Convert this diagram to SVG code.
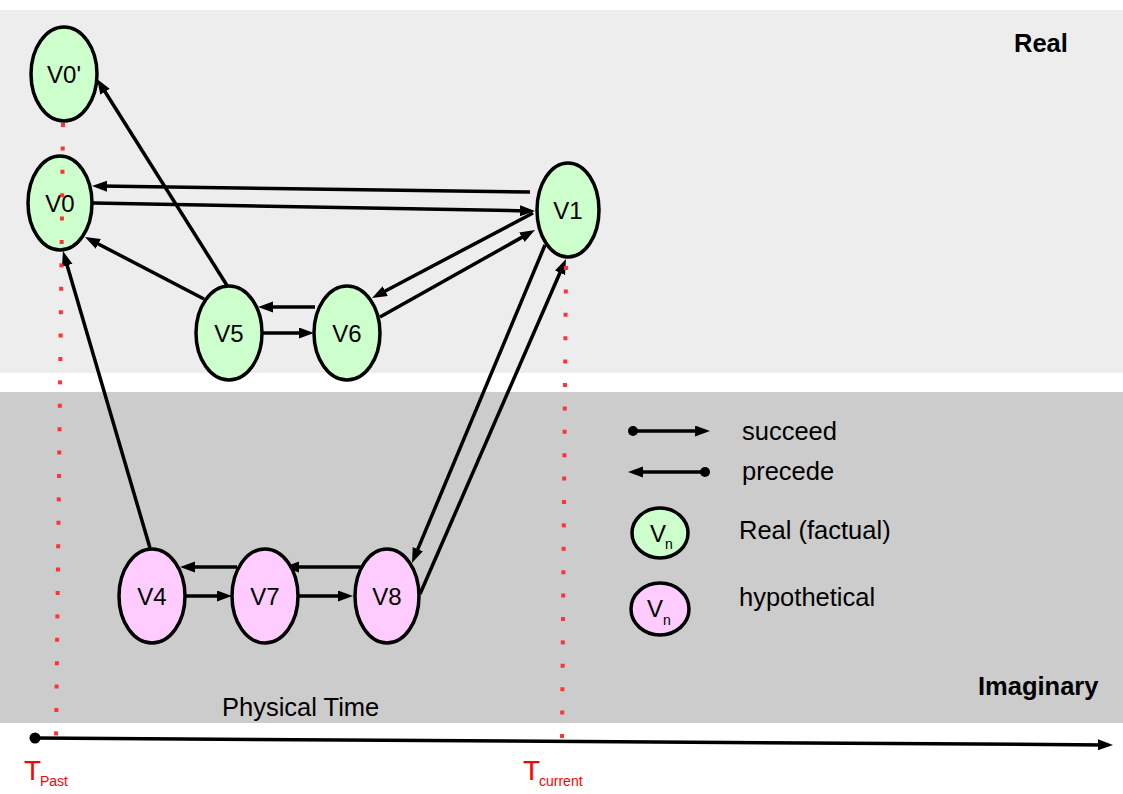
<svg xmlns="http://www.w3.org/2000/svg" width="1123" height="794" viewBox="0 0 1123 794">
<style>
.bg{stroke:none}
.n{stroke:#000;stroke-width:3.5}
.g{fill:#ccffcc}
.p{fill:#ffccff}
.t{font-family:"Liberation Sans",Arial,sans-serif;font-size:25.5px;fill:#000}
.nl{font-family:"Liberation Sans",Arial,sans-serif;font-size:24px;fill:#000;text-anchor:middle}
.b{font-family:"Liberation Sans",Arial,sans-serif;font-size:25.5px;font-weight:bold;fill:#000}
.e{stroke:#000;stroke-width:3.5;fill:none;marker-end:url(#ah)}
.dot{stroke:#ff3333;stroke-width:4;stroke-dasharray:4 19.4;fill:none}
.r{font-family:"Liberation Sans",Arial,sans-serif;fill:#ff0000}
</style>
<defs>
<marker id="ah" markerUnits="userSpaceOnUse" markerWidth="16" markerHeight="12" refX="7" refY="5.5" orient="auto">
<path d="M0,0 L15,5.5 L0,11 Z" fill="#000"/>
</marker>
</defs>
<rect width="1123" height="794" fill="#fff"/>
<rect class="bg" x="0" y="10" width="1123" height="363" fill="#ededed"/>
<rect class="bg" x="0" y="392" width="1123" height="331" fill="#cccccc"/>
<text class="b" x="1014" y="52">Real</text>
<text class="b" x="978" y="695">Imaginary</text>
<text class="t" x="222" y="716">Physical Time</text>

<g id="connectors">
<line class="e" x1="530" y1="192" x2="100" y2="186.1"/>
<line class="e" x1="93" y1="203" x2="527" y2="210.9"/>
<line class="e" x1="228" y1="287" x2="101.3" y2="85.8"/>
<line class="e" x1="204" y1="299" x2="92.1" y2="240.7"/>
<line class="e" x1="150" y1="548" x2="65.2" y2="258.7"/>
<line class="e" x1="315" y1="307" x2="266" y2="307"/>
<line class="e" x1="262" y1="333" x2="306" y2="333"/>
<line class="e" x1="533" y1="213" x2="379.1" y2="294.3"/>
<line class="e" x1="380" y1="317" x2="528" y2="233.9"/>
<line class="e" x1="545" y1="245" x2="415.1" y2="555.6"/>
<line class="e" x1="420" y1="594" x2="562.8" y2="266.3"/>
<line class="e" x1="237" y1="567" x2="188" y2="567"/>
<line class="e" x1="186" y1="596" x2="224" y2="596"/>
<line class="e" x1="365" y1="567" x2="292" y2="567"/>
<line class="e" x1="299" y1="596" x2="345" y2="596"/>
</g>

<g id="V0p"><ellipse class="n g" cx="64" cy="74" rx="33" ry="47"/><text class="nl" x="64" y="83">V0'</text></g>
<g id="V0"><ellipse class="n g" cx="60" cy="203" rx="32" ry="47"/><text class="nl" x="60" y="212">V0</text></g>
<g id="V1"><ellipse class="n g" cx="568" cy="210" rx="31" ry="47"/><text class="nl" x="568" y="219">V1</text></g>
<g id="V5"><ellipse class="n g" cx="229" cy="333" rx="33" ry="47"/><text class="nl" x="229" y="342">V5</text></g>
<g id="V6"><ellipse class="n g" cx="347" cy="333" rx="33" ry="47"/><text class="nl" x="347" y="342">V6</text></g>
<g id="V4"><ellipse class="n p" cx="152" cy="596" rx="33" ry="47"/><text class="nl" x="152" y="605">V4</text></g>
<g id="V7"><ellipse class="n p" cx="265" cy="596" rx="33" ry="47"/><text class="nl" x="265" y="605">V7</text></g>
<g id="V8"><ellipse class="n p" cx="387" cy="596" rx="32" ry="47"/><text class="nl" x="387" y="605">V8</text></g>

<g id="legend">
<circle cx="633" cy="431" r="5" fill="#000"/>
<line class="e" x1="633" y1="431" x2="702" y2="431"/>
<text class="t" x="742" y="440">succeed</text>
<circle cx="705" cy="472" r="5" fill="#000"/>
<line class="e" x1="705" y1="472" x2="636" y2="472"/>
<text class="t" x="742" y="480">precede</text>
<ellipse class="n g" cx="660" cy="533" rx="28" ry="25"/>
<text class="t" x="650" y="542" style="font-size:24px">V</text>
<text class="t" x="665" y="549" style="font-size:14px">n</text>
<text class="t" x="739" y="539">Real (factual)</text>
<ellipse class="n p" cx="660" cy="609" rx="29" ry="26"/>
<text class="t" x="647" y="617" style="font-size:24px">V</text>
<text class="t" x="663" y="625" style="font-size:14px">n</text>
<text class="t" x="739" y="606">hypothetical</text>
</g>

<g id="timeline">
<circle cx="35" cy="738" r="5.5" fill="#000"/>
<line class="e" x1="35" y1="738" x2="1105" y2="744.9"/>
<text class="r" x="24" y="780" style="font-size:28px">T</text>
<text class="r" x="40" y="786" style="font-size:14px">Past</text>
<text class="r" x="523" y="780" style="font-size:28px">T</text>
<text class="r" x="539" y="786" style="font-size:14px">current</text>
</g>

<g id="dotted">
<line class="dot" x1="63" y1="123" x2="56" y2="740"/>
<line class="dot" x1="566" y1="266" x2="562" y2="740"/>
</g>
</svg>
